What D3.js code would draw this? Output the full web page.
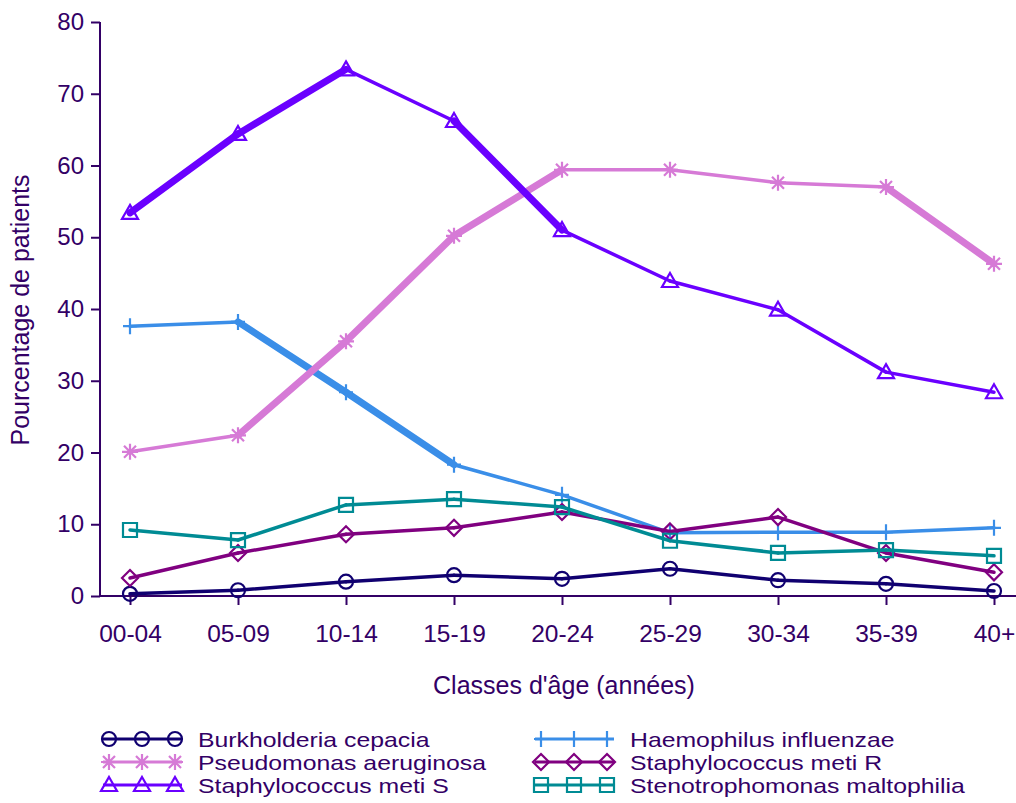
<!DOCTYPE html>
<html><head><meta charset="utf-8">
<script src="https://cdn.jsdelivr.net/npm/d3@7"></script>
<style>body{margin:0;background:#fff}svg{display:block;font-family:Arial,"Liberation Sans",sans-serif}</style>
</head><body><svg id="c" width="1016" height="803"></svg>
<script>
const categories = ["00-04","05-09","10-14","15-19","20-24","25-29","30-34","35-39","40+"];
const yTicks = [0,10,20,30,40,50,60,70,80];
const burkholderia = [0.3,0.8,2.0,2.9,2.4,3.8,2.2,1.7,0.7];
const haemophilus = [37.6,38.2,28.4,18.3,14.1,8.8,8.9,8.9,9.5];
const pseudomonas = [20.1,22.4,35.5,50.2,59.4,59.4,57.6,57.0,46.3];
const staphR = [2.5,6.0,8.6,9.5,11.7,9.0,11.0,6.0,3.3];
const staphS = [53.4,64.4,73.4,66.2,51.0,43.9,39.9,31.2,28.4];
const steno = [9.2,7.8,12.7,13.5,12.4,7.7,6.0,6.4,5.6];
// 1 = thick (emphasised) segment between consecutive age classes
const thickBurk = [0,0,0,0,0,0,0,0];
const thickHaem = [0,1,1,0,0,0,0,0];
const thickPseu = [0,1,1,1,0,0,0,1];
const thickStR  = [0,0,0,0,0,0,0,0];
const thickStS  = [1,1,0,1,0,0,0,0];
const thickSten = [0,0,0,0,0,0,0,0];

const series = [
  {name:"Burkholderia cepacia", values:burkholderia, thick:thickBurk, color:"#100070", marker:"circle"},
  {name:"Haemophilus influenzae", values:haemophilus, thick:thickHaem, color:"#3a8ee8", marker:"plus"},
  {name:"Pseudomonas aeruginosa", values:pseudomonas, thick:thickPseu, color:"#d67ad6", marker:"star"},
  {name:"Staphylococcus meti R", values:staphR, thick:thickStR, color:"#800080", marker:"diamond"},
  {name:"Staphylococcus meti S", values:staphS, thick:thickStS, color:"#6a00ff", marker:"triangle"},
  {name:"Stenotrophomonas maltophilia", values:steno, thick:thickSten, color:"#008b94", marker:"square"}
];
const ink = "#330066";
const svg = d3.select("#c");
const x = d3.scalePoint().domain(categories).range([130,994]);
const y = d3.scaleLinear().domain([0,80]).range([596,22]);

// axes
const yAxis = svg.append("g").attr("transform","translate(100,0)")
  .call(d3.axisLeft(y).tickValues(yTicks).tickSize(9).tickPadding(7));
yAxis.select(".domain").attr("stroke",ink).attr("stroke-width",2).attr("d","M0,22V597");
yAxis.selectAll(".tick line").attr("stroke",ink).attr("stroke-width",2);
yAxis.selectAll(".tick text").attr("fill",ink).attr("font-size",24).attr("font-family","Arial, 'Liberation Sans', sans-serif");

const xAxis = svg.append("g").attr("transform","translate(0,596)")
  .call(d3.axisBottom(x).tickSize(9).tickPadding(20));
xAxis.select(".domain").attr("stroke",ink).attr("stroke-width",2).attr("d","M99,0H1016");
xAxis.selectAll(".tick line").attr("stroke",ink).attr("stroke-width",2);
xAxis.selectAll(".tick text").attr("fill",ink).attr("font-size",24.5).attr("font-family","Arial, 'Liberation Sans', sans-serif");

svg.append("text").attr("x",564).attr("y",694).attr("text-anchor","middle")
  .attr("fill",ink).attr("font-size",25).text("Classes d'âge (années)");
svg.append("text").attr("transform","translate(29,310) rotate(-90)").attr("text-anchor","middle")
  .attr("fill",ink).attr("font-size",25).text("Pourcentage de patients");

function markerPath(type){
  switch(type){
    case "circle": return null;
    case "plus": return "M-7,0H7M0,-8V8";
    case "star": return "M-8,0H8M0,-8V8M-6,-6L6,6M-6,6L6,-6";
    case "diamond": return "M0,-8L8,0L0,8L-8,0Z";
    case "triangle": return "M0,-8L8,6H-8Z";
    case "square": return "M-7,-7H7V7H-7Z";
  }
}
function drawMarker(g, type, color, cx, cy){
  if(type==="circle"){
    g.append("circle").attr("cx",cx).attr("cy",cy).attr("r",7)
      .attr("fill","none").attr("stroke",color).attr("stroke-width",2.2);
  } else {
    g.append("path").attr("d",markerPath(type)).attr("transform",`translate(${cx},${cy})`)
      .attr("fill","none").attr("stroke",color).attr("stroke-width",2.2);
  }
}

const plot = svg.append("g");
series.forEach(s=>{
  const g = plot.append("g");
  const pts = s.values.map((v,i)=>[x(categories[i]), y(v)]);
  for(let i=0;i<pts.length-1;i++){
    g.append("line").attr("x1",pts[i][0]).attr("y1",pts[i][1])
      .attr("x2",pts[i+1][0]).attr("y2",pts[i+1][1])
      .attr("stroke",s.color).attr("stroke-width",s.thick[i]?7:3.5).attr("stroke-linecap","round");
  }
  pts.forEach(p=>drawMarker(g,s.marker,s.color,p[0],p[1]));
});

// legend
const legendOrder = [
  [0,103,739],[1,535,739],
  [2,103,762],[3,535,762],
  [4,103,785],[5,535,785]
];
legendOrder.forEach(([idx,lx,ly])=>{
  const s = series[idx];
  const g = svg.append("g");
  g.append("line").attr("x1",lx).attr("x2",lx+79).attr("y1",ly).attr("y2",ly)
    .attr("stroke",s.color).attr("stroke-width",3);
  [lx+6,lx+39,lx+72].forEach(mx=>drawMarker(g,s.marker,s.color,mx,ly));
  g.append("text").attr("transform",`translate(${lx+95},${ly+7.5}) scale(1.24,1)`)
    .attr("fill",ink).attr("font-size",20).text(s.name);
});
</script></body></html>
